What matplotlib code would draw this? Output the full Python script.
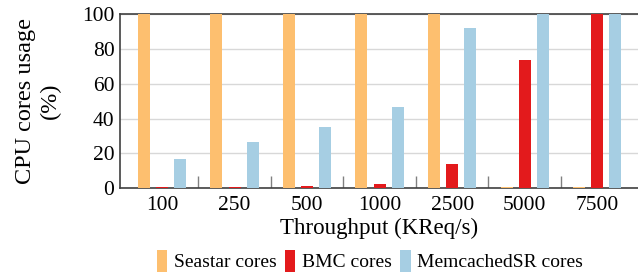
import matplotlib
matplotlib.use("Agg")
import matplotlib.pyplot as plt
import numpy as np

categories = ["100", "250", "500", "1000", "2500", "5000", "7500"]
seastar = [100, 100, 100, 100, 100, 0.5, 0.5]
bmc = [0.5, 0.5, 1.0, 2.1, 13.8, 73.4, 100]
memcached = [16.7, 26.4, 35.0, 46.5, 92.0, 100, 100]
series_names = ["Seastar cores", "BMC cores", "MemcachedSR cores"]
colors = ["#FDBF6F", "#E31A1C", "#A6CEE3"]

plt.rcParams['font.family'] = ['Liberation Serif', 'DejaVu Serif']

fig = plt.figure(figsize=(6.38, 2.77), dpi=100)
ax = fig.add_axes([0.188, 0.321, 0.812, 0.628])

n = len(categories)
period = 4
base = np.arange(n) * period
width = 0.66
for j, (vals, name, c) in enumerate(zip([seastar, bmc, memcached], series_names, colors)):
    ax.bar(base + j, vals, width=width, color=c, label=name, zorder=3, linewidth=0)

# group separators
seps = base[:-1] + 3
ax.vlines(seps, 0, 7, color="#808080", linewidth=1.0, zorder=2)

ax.set_xlim(-1.32, (n - 1) * period + 2 + 1.25)
ax.set_ylim(0, 100)
ax.set_xticks(base + 1)
ax.set_xticklabels(categories, fontsize=15.5)
ax.tick_params(axis='x', length=0, pad=6)
ax.set_yticks([0, 20, 40, 60, 80, 100])
ax.tick_params(axis='y', labelsize=15.5, length=0, pad=4)
ax.yaxis.grid(True, color="#d8d8d8", linewidth=1.0, zorder=0)
ax.set_axisbelow(True)
for s in ["top", "bottom", "left"]:
    ax.spines[s].set_color("#404040")
    ax.spines[s].set_linewidth(1.2)
ax.spines["right"].set_visible(False)

ax.set_xlabel("Throughput (KReq/s)", fontsize=16.5, labelpad=2)
ax.set_ylabel("CPU cores usage\n(%)", fontsize=17.5, labelpad=15, linespacing=1.25)

fig.legend(loc="center", bbox_to_anchor=(0.58, 0.058), ncol=3, frameon=False,
           fontsize=14, handlelength=0.55, handleheight=1.3, handletextpad=0.35,
           columnspacing=0.4, borderpad=0, borderaxespad=0)

fig.savefig("out.png", dpi=100)
